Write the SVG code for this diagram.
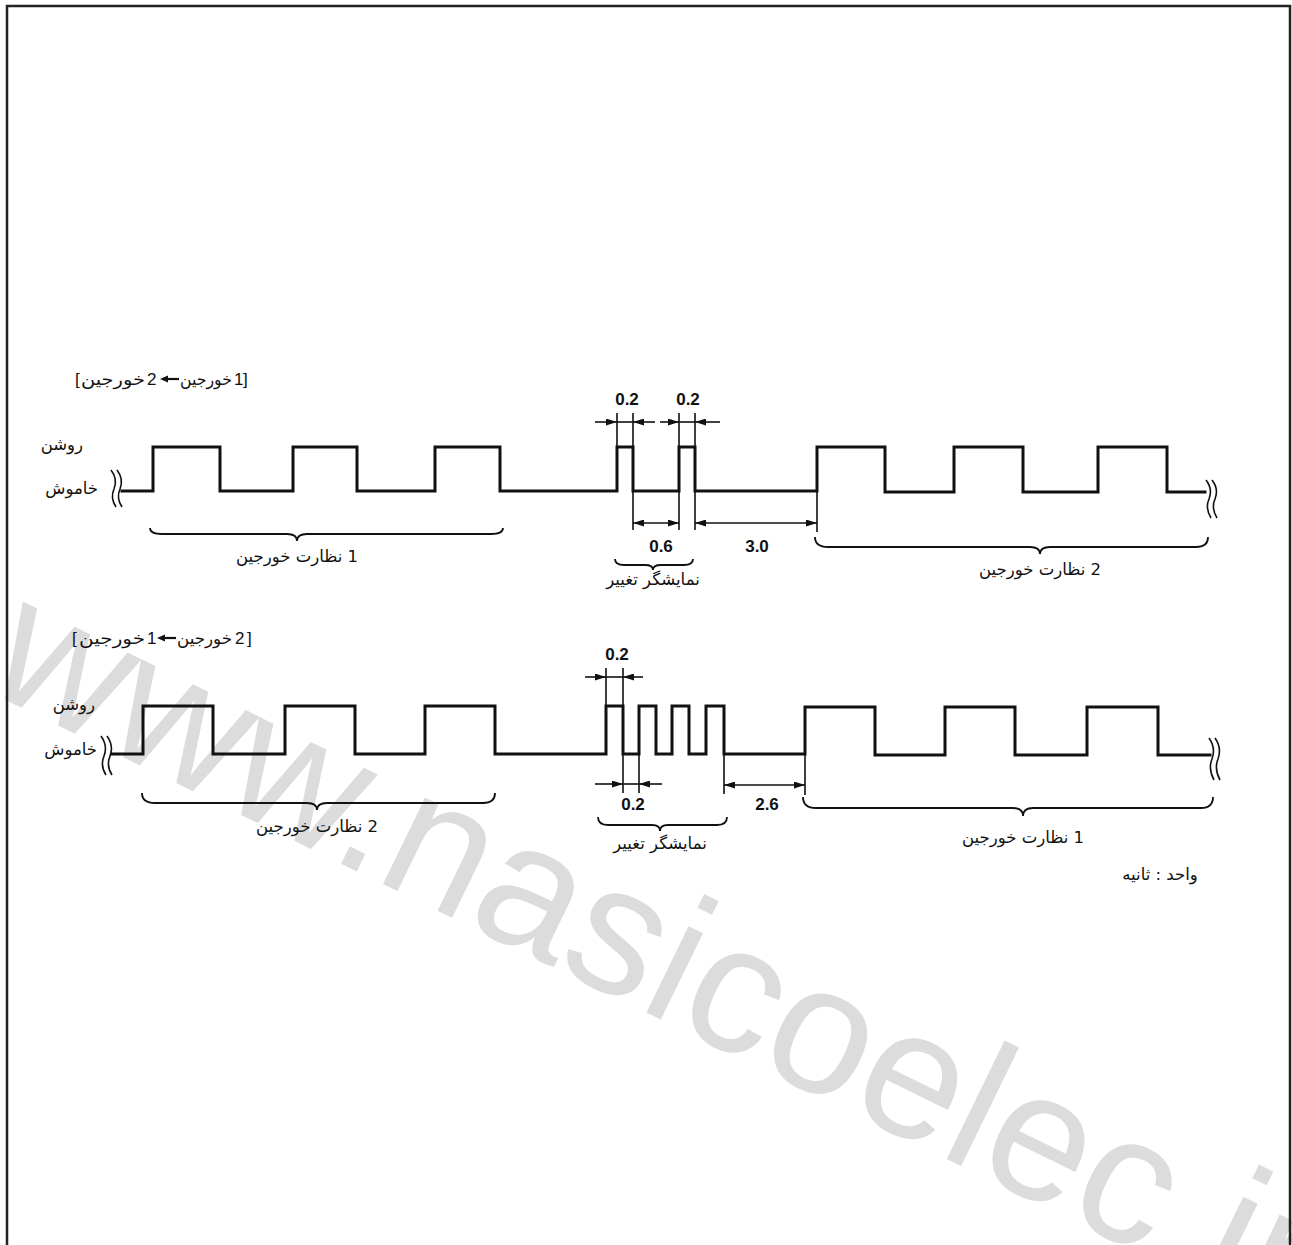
<svg xmlns="http://www.w3.org/2000/svg" width="1292" height="1245" viewBox="0 0 1292 1245">
<style>
text{direction:ltr}
.wave{fill:none;stroke:#111;stroke-width:3;stroke-linejoin:miter;stroke-linecap:square}
.brk{fill:none;stroke:#111;stroke-width:1.6}
.dim{fill:none;stroke:#111;stroke-width:1.6}
.brace{fill:none;stroke:#111;stroke-width:1.8}
.num{font-family:"Liberation Sans",Arial,sans-serif;font-weight:bold;font-size:17px;fill:#111;text-anchor:middle}
.fa{font-family:"DejaVu Sans","Noto Sans",sans-serif;font-size:16.5px;fill:#111}
.lt{font-family:"Liberation Sans",Arial,sans-serif;font-size:17px;fill:#111;unicode-bidi:bidi-override;direction:ltr}
.wm{font-family:"Liberation Sans",Arial,sans-serif;font-size:182px;fill:#dcdcdc}
</style>
<defs>
<marker id="ah" viewBox="0 0 11 7" refX="11" refY="3.5" markerWidth="11" markerHeight="7" markerUnits="userSpaceOnUse" orient="auto-start-reverse">
<path d="M0,0 L11,3.5 L0,7 z" fill="#111"/>
</marker>
</defs>
<rect width="1292" height="1245" fill="#fff"/>
<g id="watermark">
<text class="wm" transform="translate(-19,688) rotate(26)">www.nasicoelec.ir</text>
</g>
<rect id="frame" x="7" y="6" width="1283" height="1260" fill="none" stroke="#222" stroke-width="2.5"/>

<g id="waveform-top">
<path class="wave" d="M122,491 H153 V447 H220 V491 H293 V447 H357 V491 H435 V447 H500 V491 H617 V447 H633 V491 H679 V447 H695 V491 H817 V447 H885 V492 H954 V447 H1023 V492 H1098 V447 H1167 V492 H1205"/>
<path class="brk" d="M111,470 Q118,479 114,489 Q110,498 116,507 M117,470 Q124,479 120,489 Q116,498 122,507"/>
<path class="brk" d="M1206,480 Q1213,489 1209,499 Q1205,508 1211,518 M1212,480 Q1219,489 1215,499 Q1211,508 1217,518"/>
</g>

<g id="waveform-bottom">
<path class="wave" d="M112,754 H143 V706 H213 V754 H285 V706 H355 V754 H425 V706 H495 V754 H606 V706 H623 V754 H639 V706 H656 V754 H672 V706 H689 V754 H706 V706 H724 V754 H805 V707 H875 V755 H945 V707 H1015 V755 H1087 V707 H1158 V755 H1210"/>
<path class="brk" d="M101,736 Q108,746 104,756 Q100,766 106,775 M107,736 Q114,746 110,756 Q106,766 112,775"/>
<path class="brk" d="M1209,738 Q1216,748 1212,759 Q1208,769 1214,780 M1215,738 Q1222,748 1218,759 Q1214,769 1220,780"/>
</g>

<g id="connectors">
<path class="dim" d="M617,413 V447 M633,413 V447 M679,413 V447 M695,413 V447"/>
<line class="dim" x1="595" y1="422" x2="617" y2="422" marker-end="url(#ah)"/>
<line class="dim" x1="617" y1="422" x2="633" y2="422"/>
<line class="dim" x1="655" y1="422" x2="633" y2="422" marker-end="url(#ah)"/>
<line class="dim" x1="660" y1="422" x2="679" y2="422" marker-end="url(#ah)"/>
<line class="dim" x1="679" y1="422" x2="695" y2="422"/>
<line class="dim" x1="720" y1="422" x2="695" y2="422" marker-end="url(#ah)"/>
<path class="dim" d="M633,492 V530 M679,492 V530 M695,492 V530 M817,492 V532"/>
<line class="dim" x1="633" y1="523" x2="679" y2="523" marker-start="url(#ah)" marker-end="url(#ah)"/>
<line class="dim" x1="695" y1="523" x2="817" y2="523" marker-start="url(#ah)" marker-end="url(#ah)"/>
<path class="dim" d="M606,668 V706 M623,668 V706"/>
<line class="dim" x1="585" y1="677" x2="606" y2="677" marker-end="url(#ah)"/>
<line class="dim" x1="606" y1="677" x2="623" y2="677"/>
<line class="dim" x1="643" y1="677" x2="623" y2="677" marker-end="url(#ah)"/>
<path class="dim" d="M623,755 V793 M639,755 V793"/>
<line class="dim" x1="595" y1="784" x2="623" y2="784" marker-end="url(#ah)"/>
<line class="dim" x1="623" y1="784" x2="639" y2="784"/>
<line class="dim" x1="662" y1="784" x2="639" y2="784" marker-end="url(#ah)"/>
<path class="dim" d="M724,755 V794 M805,755 V795"/>
<line class="dim" x1="724" y1="785" x2="805" y2="785" marker-start="url(#ah)" marker-end="url(#ah)"/>
<path d="M160,379 L168,375.5 L168,382.5 z" fill="#111"/>
<line x1="167" y1="379" x2="179" y2="379" stroke="#111" stroke-width="2.2"/>
<path d="M157,638 L165,634.5 L165,641.5 z" fill="#111"/>
<line x1="164" y1="638" x2="176" y2="638" stroke="#111" stroke-width="2.2"/>
</g>

<g id="braces">
<path class="brace" d="M150,528 Q150,534 162,534 H287 Q297,534 297,541 Q297,534 307,534 H491 Q503,534 503,528"/>
<path class="brace" d="M815,537 Q815,547 828,547 H1030 Q1040,547 1040,554 Q1040,547 1050,547 H1196 Q1208,547 1208,537"/>
<path class="brace" d="M615,559 Q615,565 624,565 H645 Q653,565 653,570 Q653,565 661,565 H684 Q693,565 693,559"/>
<path class="brace" d="M142,793 Q142,803 155,803 H307 Q317,803 317,810 Q317,803 327,803 H483 Q495,803 495,793"/>
<path class="brace" d="M803,797 Q803,808 816,808 H1013 Q1023,808 1023,816 Q1023,808 1033,808 H1201 Q1213,808 1213,797"/>
<path class="brace" d="M598,817 Q598,825 608,825 H652 Q660,825 660,831 Q660,825 668,825 H717 Q727,825 727,817"/>
</g>

<g id="labels">
<text class="lt" x="75" y="385">[</text>
<text class="fa" x="81" y="385" textLength="64" lengthAdjust="spacingAndGlyphs">خورجین</text>
<text class="lt" x="147" y="385">2</text>
<text class="fa" x="180" y="385" textLength="52" lengthAdjust="spacingAndGlyphs">خورجین</text>
<text class="lt" x="234" y="385">1</text>
<text class="lt" x="243" y="385">]</text>

<text class="fa" x="83" y="450" text-anchor="end">روشن</text>
<text class="fa" x="98" y="494" text-anchor="end">خاموش</text>

<text class="num" x="627" y="405">0.2</text>
<text class="num" x="688" y="405">0.2</text>
<text class="num" x="661" y="552">0.6</text>
<text class="num" x="757" y="552">3.0</text>
<text class="fa" x="653" y="585" text-anchor="middle">نمایشگر تغییر</text>
<text class="fa" x="297" y="562" text-anchor="middle">نظارت خورجین&#x200E; 1</text>
<text class="fa" x="1040" y="575" text-anchor="middle">نظارت خورجین&#x200E; 2</text>

<text class="lt" x="72" y="644">[</text>
<text class="fa" x="79" y="644" textLength="66" lengthAdjust="spacingAndGlyphs">خورجین</text>
<text class="lt" x="147" y="644">1</text>
<text class="fa" x="177" y="644" textLength="55" lengthAdjust="spacingAndGlyphs">خورجین</text>
<text class="lt" x="235" y="644">2</text>
<text class="lt" x="247" y="644">]</text>

<text class="fa" x="95" y="710" text-anchor="end">روشن</text>
<text class="fa" x="97" y="755" text-anchor="end">خاموش</text>

<text class="num" x="617" y="660">0.2</text>
<text class="num" x="633" y="810">0.2</text>
<text class="num" x="767" y="810">2.6</text>
<text class="fa" x="660" y="849" text-anchor="middle">نمایشگر تغییر</text>
<text class="fa" x="317" y="832" text-anchor="middle">نظارت خورجین&#x200E; 2</text>
<text class="fa" x="1023" y="843" text-anchor="middle">نظارت خورجین&#x200E; 1</text>
<text class="fa" x="1160" y="880" text-anchor="middle">واحد : ثانیه</text>
</g>
</svg>
